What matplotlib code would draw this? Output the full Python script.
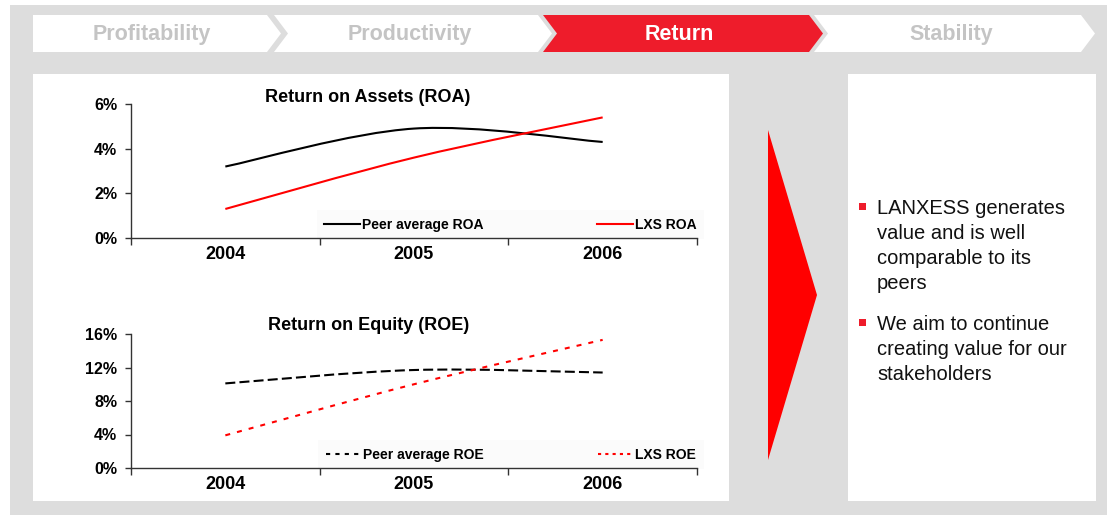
import numpy as np
import matplotlib
matplotlib.use("Agg")
import matplotlib.pyplot as plt
from matplotlib.path import Path
from matplotlib.patches import PathPatch, Polygon, Rectangle
from matplotlib.lines import Line2D

plt.rcParams["font.family"] = ["Liberation Sans", "DejaVu Sans"]

# ---------------- data ----------------
years = ["2004", "2005", "2006"]
roa_peer = [3.2, 4.9, 4.3]
roa_lxs = [1.3, 3.6, 5.4]
roe_peer = [10.1, 11.7, 11.4]
roe_lxs = [3.9, 10.0, 15.3]

roa_ticks = [0, 2, 4, 6]
roe_ticks = [0, 4, 8, 12, 16]

tabs = ["Profitability", "Productivity", "Return", "Stability"]
active_tab = "Return"

bullets = [
    "LANXESS generates\nvalue and is well\ncomparable to its\npeers",
    "We aim to continue\ncreating value for our\nstakeholders",
]

# ---------------- colours ----------------
GRAY_BG = "#dddddd"
TAB_RED = "#ee1c2b"
ARROW_RED = "#ff0000"
LINE_RED = "#ff0000"
TAB_TXT = "#c4c4c4"
narrow = ["Liberation Sans Narrow", "Liberation Sans", "DejaVu Sans"]


def smooth_path(xs, ys):
    # excel style smoothed line through the points (bezier segments)
    pts = np.column_stack([xs, ys]).astype(float)
    n = len(pts)
    verts = [pts[0]]
    codes = [Path.MOVETO]
    for i in range(n - 1):
        p0 = pts[i - 1] if i > 0 else pts[i]
        p1 = pts[i]
        p2 = pts[i + 1]
        p3 = pts[i + 2] if i + 2 < n else pts[i + 1]
        verts += [p1 + (p2 - p0) / 6, p2 - (p3 - p1) / 6, p2]
        codes += [Path.CURVE4] * 3
    return Path(verts, codes)


fig = plt.figure(figsize=(11.07, 5.15), dpi=100)

# background in pixel coordinates
bg = fig.add_axes([0, 0, 1, 1], zorder=0)
bg.set_xlim(0, 1107)
bg.set_ylim(515, 0)
bg.axis("off")
bg.add_patch(Rectangle((10, 5), 1097, 510, color=GRAY_BG, lw=0))

# chevron tabs
tab_left = [33, 274, 543, 814]
tab_right = [267, 538, 809, 1081]
d = 14
y0, y1 = 15, 52
ym = (y0 + y1) / 2
for i, name in enumerate(tabs):
    xl, xr = tab_left[i], tab_right[i]
    if i == 0:
        pts = [(xl, y0), (xr, y0), (xr + d, ym), (xr, y1), (xl, y1)]
    else:
        pts = [(xl, y0), (xr, y0), (xr + d, ym), (xr, y1), (xl, y1), (xl + d, ym)]
    active = name == active_tab
    bg.add_patch(Polygon(pts, closed=True, color=TAB_RED if active else "white", lw=0))
    cx = (xl + xr) / 2 + (d / 4 if i > 0 else 2)
    bg.text(cx, ym + 1, name, ha="center", va="center", fontsize=15.5,
            fontweight="bold", color="white" if active else TAB_TXT)

# white panels and arrow
bg.add_patch(Rectangle((33, 74), 696, 427, color="white", lw=0))
bg.add_patch(Rectangle((848, 74), 248, 427, color="white", lw=0))
bg.add_patch(Polygon([(768, 130), (817, 295), (768, 460)], closed=True,
                     color=ARROW_RED, lw=0))

# bullets
bullet_y = [203, 319]
for by, txt in zip(bullet_y, bullets):
    bg.add_patch(Rectangle((859, by), 6.5, 6.5, color=TAB_RED, lw=0))
    bg.text(877, by - 4, txt, ha="left", va="top", fontsize=14.5,
            color="#111111", linespacing=1.39)


def draw_chart(rect, peer, lxs, ticks, title, title_pos, styles, labels):
    ax = fig.add_axes(rect, zorder=2)
    ax.patch.set_alpha(0)
    xs = np.arange(len(years)) + 0.5

    ax.add_patch(PathPatch(smooth_path(xs, peer), fill=False, edgecolor="black",
                           lw=1.5, linestyle=styles[0], zorder=3))
    ax.add_patch(PathPatch(smooth_path(xs, lxs), fill=False, edgecolor=LINE_RED,
                           lw=1.5, linestyle=styles[1], zorder=3))

    ax.set_xlim(0, len(years))
    ax.set_ylim(ticks[0], ticks[-1])
    for s in ["top", "right"]:
        ax.spines[s].set_visible(False)
    for s in ["left", "bottom"]:
        ax.spines[s].set_color("#333333")
        ax.spines[s].set_linewidth(1)

    ax.set_yticks(ticks)
    ax.set_yticklabels([f"{t}%" for t in ticks], fontsize=11.5, fontweight="bold")
    ax.set_xticks(np.arange(len(years) + 1))
    ax.set_xticklabels([])
    ax.set_xticks(xs, minor=True)
    ax.set_xticklabels(years, minor=True, fontsize=13, fontweight="bold")
    ax.tick_params(axis="y", length=4, width=1, color="#333333", pad=6)
    ax.tick_params(axis="x", which="major", length=5, width=1, color="#333333")
    ax.tick_params(axis="x", which="minor", length=0, pad=6)

    ax.text(title_pos[0], title_pos[1], title, transform=ax.transAxes,
            ha="center", va="center", fontsize=13, fontweight="bold")

    handles = [
        Line2D([], [], color="black", lw=1.5, linestyle=styles[2]),
        Line2D([], [], color=LINE_RED, lw=1.5, linestyle=styles[3]),
    ]
    leg = ax.legend(handles, labels, ncol=2, loc="lower right",
                    bbox_to_anchor=(1.012, -0.01), frameon=True, fancybox=False,
                    facecolor="#fbfbfb", edgecolor="none", framealpha=1,
                    prop={"family": narrow, "weight": "bold", "size": 10},
                    handlelength=2.6, handletextpad=0.1, columnspacing=8.2,
                    borderaxespad=0.0, borderpad=0.55)
    leg.set_zorder(1)
    return ax


draw_chart([131 / 1107, 1 - 238 / 515, 566 / 1107, 134 / 515],
           roa_peer, roa_lxs, roa_ticks, "Return on Assets (ROA)", (0.419, 1.052),
           ["-", "-", "-", "-"], ["Peer average ROA", "LXS ROA"])

draw_chart([131 / 1107, 1 - 468 / 515, 566 / 1107, 134 / 515],
           roe_peer, roe_lxs, roe_ticks, "Return on Equity (ROE)", (0.42, 1.067),
           [(0, (4.8, 2)), (0, (2.4, 3.4)), (0, (2, 2.5)), (0, (1.5, 2))],
           ["Peer average ROE", "LXS ROE"])

fig.savefig("out.png", dpi=100)
